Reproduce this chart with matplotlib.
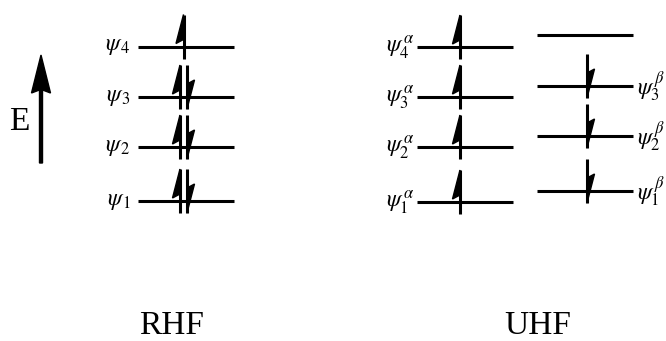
import matplotlib.pyplot as plt
from matplotlib.patches import Polygon

plt.rcParams['mathtext.fontset'] = 'stix'
plt.rcParams['font.family'] = ['Liberation Serif', 'DejaVu Serif']

# orbital energies (diagram units, bottom = 0)
rhfLevels = [140, 194, 244, 294.5]
rhfOcc = [2, 2, 2, 1]
alphaLevels = [139, 194, 244, 294]
alphaOcc = [1, 1, 1, 1]
betaLevels = [150, 205, 255, 306]
betaOcc = [1, 1, 1, 0]

rhfLabels = [r'$\psi_{\,1}$', r'$\psi_{\,2}$', r'$\psi_{\,3}$', r'$\psi_{\,4}$']
alphaLabels = [r'$\psi_1^{\,\alpha}$', r'$\psi_2^{\,\alpha}$', r'$\psi_3^{\,\alpha}$', r'$\psi_4^{\,\alpha}$']
betaLabels = [r'$\psi_1^{\,\beta}$', r'$\psi_2^{\,\beta}$', r'$\psi_3^{\,\beta}$', '']

# drawing settings
lineW = 2.2
lvlHalf = 48
arrBelow = 12
arrAbove = 32
headLen = 29
headBack = 25
headW = 7.5
labelSize = 17
bigFont = 24


def spinArrow(ax, x, level, up=True):
    '''half-headed electron arrow crossing a level'''
    lo = level - arrBelow
    hi = level + arrAbove
    ax.plot([x, x], [lo, hi], color='black', lw=lineW, solid_capstyle='butt')
    if up:
        pts = [(x, hi), (x - headW, hi - headLen), (x, hi - headBack)]
    else:
        pts = [(x, lo), (x + headW, lo + headLen), (x, lo + headBack)]
    ax.add_patch(Polygon(pts, closed=True, facecolor='black',
                         edgecolor='black', lw=1, zorder=3))


def drawLevels(ax, cx, levels, occ, arrowX, up=True):
    for lvl, n in zip(levels, occ):
        ax.plot([cx - lvlHalf, cx + lvlHalf], [lvl, lvl], color='black',
                lw=lineW, solid_capstyle='butt')
        if n == 2:
            spinArrow(ax, arrowX - 3.5, lvl, up=True)
            spinArrow(ax, arrowX + 3.5, lvl, up=False)
        elif n == 1:
            spinArrow(ax, arrowX, lvl, up=up)


fig = plt.figure(figsize=(6.66, 3.41), dpi=100)
ax = fig.add_axes([0, 0, 1, 1])
ax.set_xlim(0, 666)
ax.set_ylim(0, 341)
ax.axis('off')

# RHF column
drawLevels(ax, 185.5, rhfLevels, rhfOcc, 183.5)
for lvl, lab in zip(rhfLevels, rhfLabels):
    ax.text(131, lvl, lab, ha='right', va='center', fontsize=labelSize)

# UHF alpha column
drawLevels(ax, 465, alphaLevels, alphaOcc, 460, up=True)
for lvl, lab in zip(alphaLevels, alphaLabels):
    ax.text(414, lvl, lab, ha='right', va='center', fontsize=labelSize)

# UHF beta column
drawLevels(ax, 584.5, betaLevels, betaOcc, 587, up=False)
for lvl, lab in zip(betaLevels, betaLabels):
    if lab:
        ax.text(637, lvl, lab, ha='left', va='center', fontsize=labelSize)

# energy axis
ax.arrow(41, 341 - 163, 0, 108, width=3, head_width=19, head_length=38,
         length_includes_head=True, overhang=0.08, color='black')
ax.text(19, 341 - 122, 'E', ha='center', va='center', fontsize=bigFont)

ax.text(172, 341 - 326, 'RHF', ha='center', va='center', fontsize=bigFont)
ax.text(537.5, 341 - 326, 'UHF', ha='center', va='center', fontsize=bigFont)

plt.savefig('out.png', dpi=100)
